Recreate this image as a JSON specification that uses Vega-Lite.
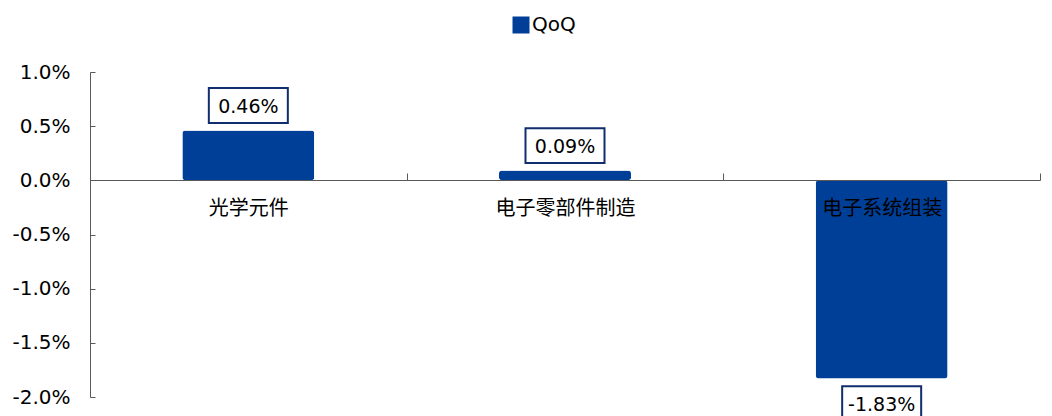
{
  "$schema": "https://vega.github.io/schema/vega-lite/v6.json",
  "width": 950,
  "height": 325,
  "autosize": {"type": "none"},
  "padding": {"left": 90, "top": 72, "right": 12, "bottom": 19},
  "background": "white",
  "config": {
    "view": {"stroke": null},
    "axis": {"grid": false, "title": null, "domainColor": "#595959", "tickColor": "#595959", "labelColor": "#000000"}
  },
  "data": {
    "values": [
      {"industry": "光学元件", "series": "QoQ", "qoq": 0.0046, "label": "0.46%"},
      {"industry": "电子零部件制造", "series": "QoQ", "qoq": 0.0009, "label": "0.09%"},
      {"industry": "电子系统组装", "series": "QoQ", "qoq": -0.0183, "label": "-1.83%"}
    ]
  },
  "encoding": {
    "x": {
      "field": "industry",
      "type": "nominal",
      "sort": null,
      "scale": {"paddingInner": 0, "paddingOuter": 0},
      "axis": {
        "orient": "bottom",
        "offset": -217,
        "zindex": 1,
        "labelAngle": 0,
        "labelFont": "Noto Sans CJK SC",
        "labelFontSize": 20,
        "labelPadding": 25,
        "tickBand": "extent",
        "tickSize": -7,
        "domainWidth": 1
      }
    },
    "y": {
      "field": "qoq",
      "type": "quantitative",
      "scale": {"domain": [-0.02, 0.01], "nice": false, "zero": false},
      "axis": {
        "values": [-0.02, -0.015, -0.01, -0.005, 0, 0.005, 0.01],
        "format": ".1%",
        "labelExpr": "replace(datum.label, '−', '-')",
        "labelFont": "DejaVu Sans",
        "labelFontSize": 20,
        "labelPadding": 25,
        "tickSize": -5
      }
    }
  },
  "layer": [
    {
      "mark": {"type": "bar", "width": 132, "cornerRadius": 3},
      "encoding": {
        "color": {
          "field": "series",
          "type": "nominal",
          "scale": {"domain": ["QoQ"], "range": ["#003F98"]},
          "legend": {
            "orient": "none",
            "legendX": 421,
            "legendY": -57,
            "title": null,
            "padding": 0,
            "symbolType": "square",
            "symbolSize": 289,
            "symbolStrokeWidth": 0,
            "symbolOpacity": 1,
            "labelFont": "DejaVu Sans",
            "labelFontSize": 20,
            "labelColor": "#000000",
            "labelOffset": 1
          }
        }
      }
    },
    {
      "mark": {
        "type": "point",
        "shape": "M-1,-0.44H1V0.44H-1Z",
        "size": 6241,
        "filled": false,
        "fill": "white",
        "fillOpacity": 1,
        "opacity": 1,
        "stroke": "#102E6E",
        "strokeWidth": 2,
        "yOffset": {"expr": "datum.qoq < 0 ? 25 : -25"}
      }
    },
    {
      "mark": {
        "type": "text",
        "font": "DejaVu Sans",
        "fontSize": 19,
        "color": "#000000",
        "align": "center",
        "baseline": "middle",
        "yOffset": {"expr": "datum.qoq < 0 ? 26 : -24"}
      },
      "encoding": {"text": {"field": "label"}}
    }
  ]
}
